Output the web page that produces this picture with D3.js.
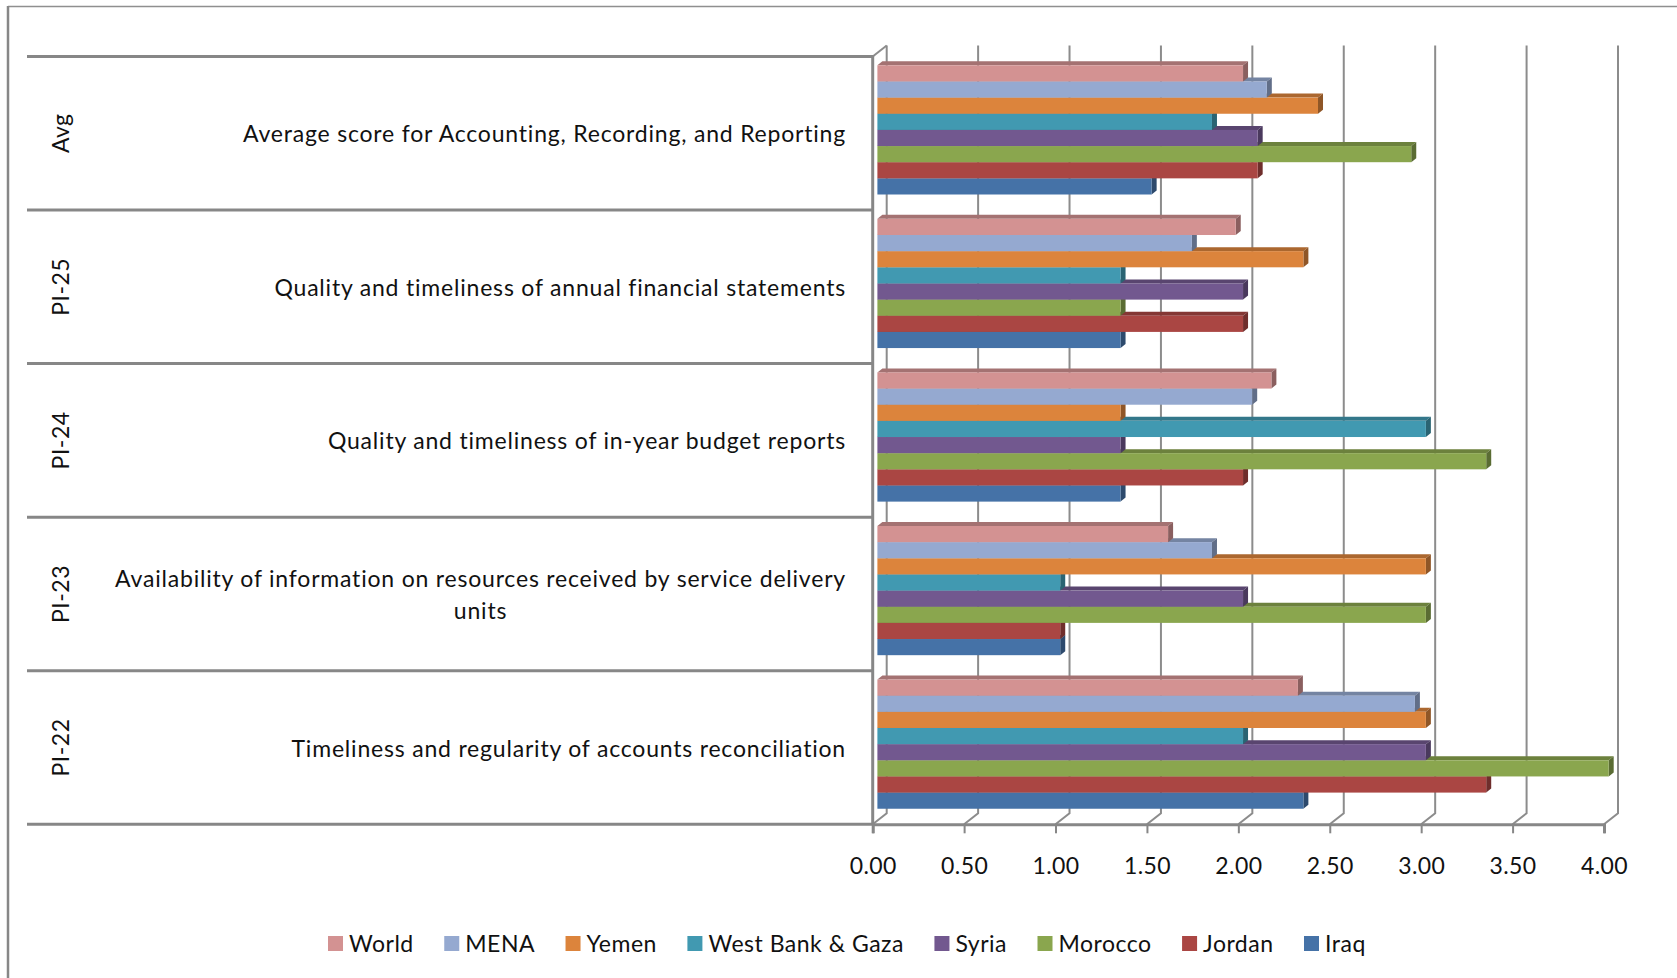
<!DOCTYPE html>
<html>
<head>
<meta charset="utf-8">
<script src="https://cdn.jsdelivr.net/npm/d3@7"></script>
<style>
html, body { margin: 0; padding: 0; background: #fff; overflow: hidden; }
text { font-family: Lato, sans-serif; fill: #111; }
</style>
</head>
<body>
<div id="chart"></div>
<script>
// top to bottom, as in the picture
var categories = ['Avg', 'PI-25', 'PI-24', 'PI-23', 'PI-22'];
var descriptions = [
    ['Average score for Accounting, Recording, and Reporting'],
    ['Quality and timeliness of annual financial statements'],
    ['Quality and timeliness of in-year budget reports'],
    ['Availability of information on resources received by service delivery', 'units'],
    ['Timeliness and regularity of accounts reconciliation']
];
var series = ['World', 'MENA', 'Yemen', 'West Bank & Gaza', 'Syria', 'Morocco', 'Jordan', 'Iraq'];
var colors = ['#D39292', '#95A9D0', '#DC843C', '#4199B1', '#72588F', '#8AA64E', '#AA4643', '#4572A7'];
var ticks = [0, 0.5, 1, 1.5, 2, 2.5, 3, 3.5, 4];

var world = [2.00, 1.96, 2.155, 1.59, 2.30];
var mena = [2.13, 1.72, 2.05, 1.83, 2.94];
var yemen = [2.41, 2.33, 1.33, 3.00, 3.00];
var westBank = [1.83, 1.33, 3.00, 1.00, 2.00];
var syria = [2.08, 2.00, 1.33, 2.00, 3.00];
var morocco = [2.92, 1.33, 3.33, 3.00, 4.00];
var jordan = [2.08, 2.00, 2.00, 1.00, 3.33];
var iraq = [1.50, 1.33, 1.33, 1.00, 2.33];
var values = [world, mena, yemen, westBank, syria, morocco, jordan, iraq];

var width = 1677, height = 978;
var gray = '#878787';
var wallDx = 14, wallDy = 11;   // back wall offset of the fake 3d
var barDx = 4.7, sideDx = 5, sideDy = 4;

var svg = d3.select('#chart').append('svg')
    .attr('width', width)
    .attr('height', height)
    .style('display', 'block');

var x_scale = d3.scaleLinear().domain([0, 4]).range([872.7, 1604]);
var y_scale = d3.scaleBand().domain(categories).range([56.5, 824.3]);
var bar_scale = d3.scaleBand().domain(series).range([8.8, 138]);

// outer frame, only top and left survive in the picture
svg.append('line').attr('x1', 8).attr('x2', width).attr('y1', 6.5).attr('y2', 6.5)
    .attr('stroke', '#8f8f8f').attr('stroke-width', 1.5);
svg.append('line').attr('x1', 8).attr('x2', 8).attr('y1', 6).attr('y2', height)
    .attr('stroke', gray).attr('stroke-width', 2.5);

// back wall grid lines with the little diagonal down to the axis
var bottom = y_scale.range()[1];
svg.selectAll('path.grid')
    .data(ticks)
    .enter()
    .append('path')
    .attr('class', 'grid')
    .attr('fill', 'none')
    .attr('stroke', '#8c8c8c')
    .attr('stroke-width', 2)
    .attr('d', function(d) {
        var px = x_scale(d);
        return 'M' + (px + wallDx) + ',' + (y_scale.range()[0] - wallDy) +
               'L' + (px + wallDx) + ',' + (bottom - wallDy) +
               'L' + px + ',' + bottom;
    });
svg.append('line')
    .attr('x1', x_scale(0)).attr('y1', y_scale.range()[0])
    .attr('x2', x_scale(0) + wallDx).attr('y2', y_scale.range()[0] - wallDy)
    .attr('stroke', '#8c8c8c').attr('stroke-width', 2);

// bars, lower ones first so the upper front faces sit on top
var groups = svg.selectAll('g.group')
    .data(categories)
    .enter()
    .append('g')
    .attr('class', 'group')
    .attr('transform', function(d) { return 'translate(0,' + y_scale(d) + ')'; });

groups.each(function(cat, c) {
    var g = d3.select(this);
    d3.range(series.length - 1, -1, -1).forEach(function(s) {
        var x0 = x_scale(0) + barDx;
        var x1 = x_scale(values[s][c]) + barDx;
        var y = bar_scale(series[s]);
        var h = bar_scale.bandwidth();
        var base = d3.color(colors[s]);
        g.append('polygon')
            .attr('points', [[x0, y], [x1, y], [x1 + sideDx, y - sideDy], [x0 + sideDx, y - sideDy]].join(' '))
            .attr('fill', base.darker(0.7));
        g.append('polygon')
            .attr('points', [[x1, y], [x1 + sideDx, y - sideDy], [x1 + sideDx, y + h - sideDy], [x1, y + h]].join(' '))
            .attr('fill', base.darker(1.2));
        g.append('rect')
            .attr('x', x0)
            .attr('y', y)
            .attr('width', x1 - x0)
            .attr('height', h)
            .attr('fill', colors[s]);
    });
});

// category dividers and the left axis line
svg.selectAll('line.divider')
    .data(categories.concat(['end']))
    .enter()
    .append('line')
    .attr('class', 'divider')
    .attr('x1', 27)
    .attr('x2', x_scale(0))
    .attr('y1', function(d) { return d == 'end' ? bottom : y_scale(d); })
    .attr('y2', function(d) { return d == 'end' ? bottom : y_scale(d); })
    .attr('stroke', gray)
    .attr('stroke-width', 3);
svg.append('line')
    .attr('x1', x_scale(0)).attr('x2', x_scale(0))
    .attr('y1', y_scale.range()[0] - 1.5).attr('y2', bottom)
    .attr('stroke', gray).attr('stroke-width', 3);

// value axis
var x_axis = d3.axisBottom(x_scale)
    .tickValues(ticks)
    .tickFormat(d3.format('.2f'))
    .tickSize(9)
    .tickPadding(24.5);
svg.append('g')
    .attr('class', 'x_axis')
    .attr('transform', 'translate(0,' + bottom + ')')
    .call(x_axis)
    .call(function(g) {
        g.select('.domain').attr('stroke', gray).attr('stroke-width', 3);
        g.selectAll('.tick line').attr('stroke', gray).attr('stroke-width', 2);
        g.selectAll('.tick text')
            .style('font-size', '23px')
            .style('font-family', 'Lato')
            .style('letter-spacing', '0.4px')
            .attr('fill', '#111');
    });

// rotated codes
svg.selectAll('text.code')
    .data(categories)
    .enter()
    .append('text')
    .attr('class', 'code')
    .attr('transform', function(d) { return 'translate(69,' + (y_scale(d) + y_scale.bandwidth() / 2) + ') rotate(-90)'; })
    .attr('text-anchor', 'middle')
    .style('font-size', '23px')
    .style('letter-spacing', '0.5px')
    .text(function(d) { return d; });

// descriptions, right aligned; a wrapped one is centred on its widest line
var labelRight = 846, lineGap = 32;
var labels = svg.selectAll('text.desc')
    .data(descriptions)
    .enter()
    .append('text')
    .attr('class', 'desc')
    .style('font-size', '23px')
    .style('letter-spacing', '0.8px');
labels.each(function(lines, i) {
    var t = d3.select(this);
    var cy = y_scale(categories[i]) + y_scale.bandwidth() / 2;
    var spans = lines.map(function(line, k) {
        return t.append('tspan')
            .attr('y', cy + 9 + (k - (lines.length - 1) / 2) * lineGap)
            .text(line);
    });
    var widest = d3.max(spans, function(s) { return s.node().getComputedTextLength(); });
    t.attr('text-anchor', lines.length > 1 ? 'middle' : 'end');
    spans.forEach(function(s) {
        s.attr('x', lines.length > 1 ? labelRight - widest / 2 : labelRight);
    });
});

// legend laid out left to right from the measured labels
var legendX = 328, legendY = 936;
series.forEach(function(name, i) {
    svg.append('rect')
        .attr('x', legendX)
        .attr('y', legendY)
        .attr('width', 15)
        .attr('height', 15)
        .attr('fill', colors[i]);
    var label = svg.append('text')
        .attr('x', legendX + 21)
        .attr('y', legendY + 16)
        .style('font-size', '23px')
        .style('letter-spacing', '0.5px')
        .text(name);
    legendX += 21 + label.node().getComputedTextLength() + 30.5;
});
</script>
</body>
</html>
